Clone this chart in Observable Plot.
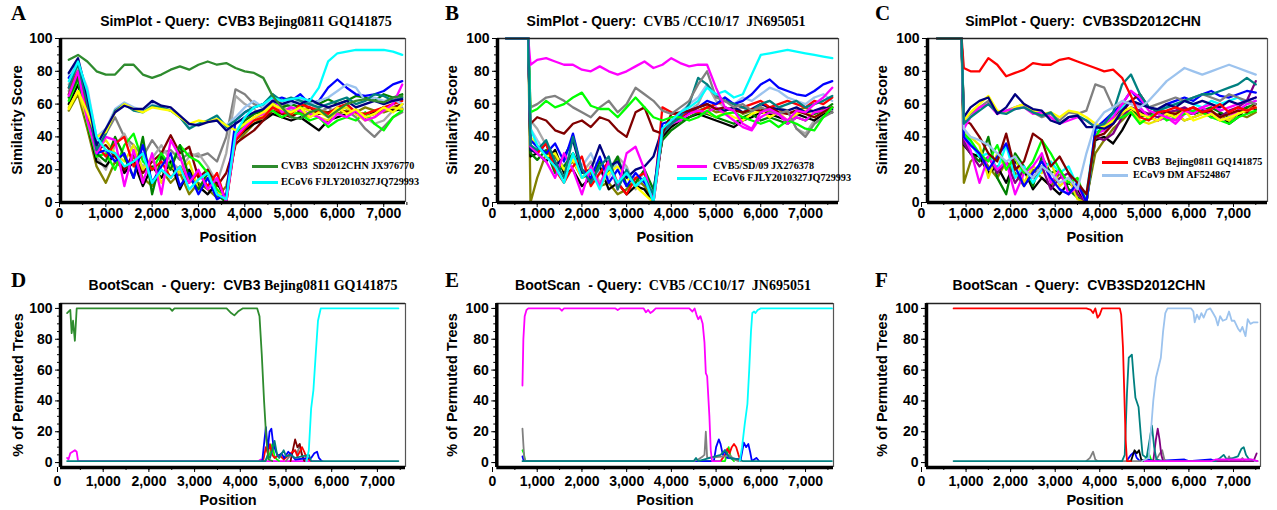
<!DOCTYPE html>
<html><head><meta charset="utf-8">
<script src="https://cdn.jsdelivr.net/npm/d3@7"></script>
<script src="https://cdn.jsdelivr.net/npm/@observablehq/plot@0.6"></script>
<style>
body{margin:0;background:#fff;}
#wrap{position:relative;width:1277px;height:510px;overflow:hidden;background:#fff;}
.abs{position:absolute;white-space:nowrap;line-height:1;color:#000;}
.sans{font-family:'Liberation Sans',Arial,sans-serif;font-weight:bold;}
.serif{font-family:'Liberation Serif','Times New Roman',serif;font-weight:bold;}
.ctr{transform:translate(-50%,-50%);}
.rot{transform:translate(-50%,-50%) rotate(-90deg);}
.ttl{font-size:14px;}
.letter{font-family:'Liberation Serif','Times New Roman',serif;font-weight:bold;font-size:21px;}
.axl{font-family:'Liberation Sans',Arial,sans-serif;font-weight:bold;font-size:14.5px;}
.leg{font-size:10.2px;}
.sw{position:absolute;height:3px;}
svg{position:absolute;}
</style>
</head><body>
<div id="wrap"></div>
<script>
// ---------- tick labels ----------
const xMajor = [0,1000,2000,3000,4000,5000,6000,7000];
const xMinor = [0,500,1000,1500,2000,2500,3000,3500,4000,4500,5000,5500,6000,6500,7000,7500];
const yMajor = [0,20,40,60,80,100];
const yMinor = [0,5,10,15,20,25,30,35,40,45,50,55,60,65,70,75,80,85,90,95,100];

// ---------- Panel A (SimPlot, query CVB3 Bejing0811) ----------
const posA = [200,400,600,800,1000,1200,1400,1600,1800,2000,2200,2400,2600,2800,3000,3200,3400,3600,3800,4000,4200,4400,4600,4800,5000,5200,5400,5600,5800,6000,6200,6400,6600,6800,7000,7200,7400];
const A_green = [87,90,86,80,78,78,84,84,78,76, 78,81,83,81,84,86,84,85,82,80, 79,76,65,58,52,51,55,57,52,56, 60,62,63,62,61,64,65];
const A_cyan = [74,86,68,40,32,30,22,25,30,12, 20,15,22,8,14,18,5,2,42,52, 58,60,64,62,63,64,62,70,86,91, 92,93,93,93,93,92,90];
const A_navy = [79,88,65,35,45,55,59,57,57,62, 59,58,53,48,47,49,50,44,48,52, 55,57,62,60,62,60,63,60,58,60, 62,58,60,62,60,62,63];
const A_blue = [76,86,62,30,32,25,30,15,35,12, 22,30,10,18,5,15,2,5,50,55, 58,60,62,64,62,66,60,62,70,75, 70,66,65,66,68,72,74];
const A_yellow = [57,68,55,40,43,55,60,57,55,58, 57,56,52,48,50,49,51,47,44,48, 52,55,60,57,55,58,52,55,52,58, 54,57,52,54,58,55,60];
const A_teal = [70,85,60,32,42,56,60,56,55,59, 58,56,52,45,48,50,53,46,50,55, 58,60,66,62,64,62,60,58,60,62, 64,60,62,66,65,62,64];
const A_lightblue = [78,84,70,40,45,57,61,58,56,60, 58,56,52,46,48,50,52,47,52,58, 62,58,64,62,60,63,60,62,64,68, 72,70,62,64,62,63,60];
const A_gray = [68,80,55,30,42,52,40,35,28,38, 30,32,26,30,28,30,25,40,69,66, 60,58,66,60,58,56,54,55,58,54, 56,52,45,40,46,52,55];
const A_dgray = [72,82,58,28,20,35,42,30,22,27, 35,25,20,28,30,22,12,30,65,60, 57,52,62,58,56,58,60,57,55,58, 60,54,52,48,50,56,58];
const A_red = [70,80,55,35,28,36,40,22,30,20, 25,15,22,12,18,10,18,0,38,45, 50,52,58,55,54,60,58,56,54,58, 60,55,54,56,58,60,62];
const A_magenta = [65,80,50,30,40,38,10,32,12,30, 5,38,28,12,20,8,15,0,40,46, 52,54,65,55,58,56,54,52,48,54, 52,56,50,52,56,60,72];
const A_lime = [62,75,48,28,30,20,35,42,25,20, 30,22,35,28,25,18,8,2,40,48, 50,54,56,52,55,54,50,52,46,50, 52,50,55,48,44,52,56];
const A_darkred = [66,78,50,32,35,28,20,30,18,25, 30,41,30,34,15,20,10,18,36,40, 44,50,56,54,52,56,58,54,55,57, 55,56,52,54,56,58,60];
const A_black = [60,72,48,25,22,30,18,25,10,22, 15,25,8,20,10,5,12,2,38,44, 48,50,54,52,50,52,48,44,50,52, 54,56,52,55,58,56,57];
const A_olive = [56,66,45,22,12,25,20,28,15,10, 20,12,18,5,12,8,3,10,35,42, 48,52,58,55,53,55,52,56,55,54, 56,55,58,56,55,57,60];
const A_green2 = [64,76,52,30,25,40,28,15,40,5, 28,20,35,15,8,18,5,0,42,50, 54,56,60,58,60,58,62,60,63,60, 62,65,64,62,66,64,66];
const A_yellow2 = [58,68,50,32,38,30,25,35,20,28, 12,22,18,25,8,15,6,3,40,46, 50,53,60,56,54,58,56,52,50,56, 58,54,50,52,56,58,57];

// ---------- Panel B (SimPlot, query CVB5/CC10/17) ----------
const posB = [300,800,850,1000,1200,1400,1600,1800,2000,2200,2400,2600,2800,3000,3200,3400,3600,3800,4000,4200,4400,4600,4800,5000,5200,5400,5600,5800,6000,6200,6400,6600,6800,7000,7200,7400,7600];
const B_magenta = [100,100,84,87,88,86,84,84,81,80, 83,80,78,80,83,86,82,84,88,85, 83,84,84,70,58,56,48,45,55,57, 54,50,56,55,60,64,70];
const B_cyan = [100,100,45,35,28,22,12,30,15,20, 8,22,12,18,10,15,0,45,50,55, 58,62,70,66,68,64,66,78,90,91, 92,93,92,91,90,89,88];
const B_lime = [100,100,55,57,62,58,60,64,67,59, 57,57,52,58,64,58,52,50,52,52, 50,52,56,52,54,55,52,50,48,50, 46,50,48,45,44,52,58];
const B_gray = [100,100,58,60,64,65,62,58,55,52, 58,62,55,60,70,66,62,56,54,58, 62,72,80,64,62,58,60,56,58,56, 54,56,45,40,48,52,55];
const B_darkred = [100,100,48,52,50,44,42,48,50,46, 52,50,44,40,55,58,44,42,54,55, 56,58,60,57,58,56,55,57,56,58, 55,54,56,54,52,55,58];
const B_olive = [100,100,0,15,30,28,20,25,15,18, 10,12,5,8,15,10,2,40,48,52, 55,56,58,55,56,58,54,56,58,55, 57,54,56,58,55,57,58];
const B_teal = [100,100,35,32,38,25,15,40,20,12, 22,28,8,20,10,15,5,42,48,52, 60,76,72,65,62,60,58,56,60,62, 58,60,62,58,60,62,65];
const B_blue = [100,100,38,34,30,36,25,42,20,15, 28,12,20,10,18,12,5,48,50,54, 56,58,62,60,64,60,62,66,72,75, 70,68,66,65,68,72,74];
const B_navy = [100,100,32,30,36,22,28,38,18,20, 35,22,25,15,20,22,28,45,48,52, 55,58,60,57,56,58,55,57,60,58, 57,56,58,55,56,58,57];
const B_red = [100,100,35,30,36,20,12,22,28,10, 18,25,12,5,15,18,0,58,55,52, 56,55,58,60,62,60,58,60,62,58, 60,62,60,58,62,60,64];
const B_yellow = [100,100,40,35,28,30,20,26,15,22, 10,18,22,15,10,5,0,44,50,52, 54,56,55,52,55,52,50,54,56,52, 55,50,54,56,52,55,58];
const B_black = [100,100,28,30,25,32,18,20,10,15, 22,8,12,5,10,8,0,40,46,50, 52,54,52,50,48,46,50,52,55,54, 52,50,54,52,50,54,55];
const B_green2 = [100,100,30,26,32,18,22,30,20,12, 25,18,28,10,12,20,8,38,44,48, 52,55,54,52,50,48,52,54,50,52, 50,48,52,50,54,56,60];
const B_dgray = [100,100,50,45,35,28,22,30,18,25, 12,20,28,22,8,15,2,40,48,52, 56,60,72,62,58,56,58,55,60,62, 58,56,45,42,50,54,56];
const B_lightblue = [100,100,45,38,30,25,20,28,22,30, 18,15,25,20,12,18,5,42,50,55, 60,64,72,66,62,60,64,62,66,70, 68,64,62,60,64,66,62];
const B_magenta2 = [100,100,34,30,25,15,30,20,5,22, 10,25,8,30,34,20,0,42,48,50, 54,56,55,58,54,50,46,44,52,55, 54,48,52,50,55,56,58];

// ---------- Panel C (SimPlot, query CVB3SD2012CHN) ----------
const posC = [350,900,950,1100,1300,1500,1700,1900,2100,2300,2500,2700,2900,3100,3300,3500,3700,3900,4100,4300,4500,4700,4900,5100,5300,5500,5700,5900,6100,6300,6500,6700,6900,7100,7300,7500];
const C_red = [100,100,82,80,80,88,84,77,79,81, 85,84,84,87,88,86,84,82,80,81, 76,65,52,50,55,56,58,56,58,55, 57,60,55,58,56,58];
const C_lightblue = [100,100,45,40,38,35,30,25,28,20, 15,22,18,12,15,8,30,48,55,58, 62,60,58,62,68,74,78,82,80,78, 80,82,84,82,80,78];
const C_navy = [100,100,52,58,62,64,54,58,66,60, 57,56,50,48,52,53,46,46,45,48, 56,62,60,58,57,60,58,62,60,62, 60,58,62,60,62,64];
const C_yellow = [100,100,50,55,60,65,56,55,58,60, 56,54,55,52,56,55,52,48,46,50, 55,58,54,52,50,54,52,56,50,52, 54,50,52,54,56,58];
const C_gray = [100,100,50,54,58,62,55,56,58,60, 55,52,54,50,55,54,56,72,70,58, 60,62,60,58,60,62,64,62,64,66, 64,62,66,64,62,60];
const C_teal = [100,100,48,52,56,60,55,54,57,58, 55,53,55,48,52,53,50,46,48,55, 72,78,66,58,56,58,60,62,64,66, 66,68,70,72,76,72];
const C_magenta = [100,100,45,52,58,60,54,56,57,58, 54,55,52,48,50,52,50,46,48,52, 60,68,64,56,54,52,50,56,54,58, 60,56,58,60,62,64];
const C_darkred = [100,100,50,48,40,30,25,42,20,25, 42,38,22,28,18,12,5,40,42,48, 55,62,66,58,56,55,54,56,58,55, 56,52,54,56,55,60];
const C_lime = [100,100,42,38,30,25,35,20,28,18, 25,38,30,20,12,15,0,40,48,50, 52,55,48,52,55,50,52,54,56,55, 52,50,48,52,54,56];
const C_blue = [100,100,40,35,30,20,28,36,22,10, 18,25,15,8,5,12,0,45,50,55, 60,68,62,58,56,60,62,64,62,66, 68,65,64,66,68,67];
const C_black = [100,100,35,30,28,18,22,12,25,20, 8,15,10,5,12,8,0,38,40,36, 44,54,56,52,50,54,52,55,54,56, 52,54,48,52,58,57];
const C_olive = [100,100,12,25,30,22,15,25,18,10, 20,15,10,18,8,5,2,30,38,45, 50,56,54,52,50,52,54,50,52,54, 55,52,50,54,52,55];
const C_green2 = [100,100,38,30,25,40,15,5,30,22, 10,28,18,20,8,3,0,42,46,50, 58,56,52,54,56,52,55,57,54,56, 58,55,52,56,58,60];
const C_cyan = [100,100,42,36,28,30,20,35,15,22, 12,20,25,18,22,10,5,44,48,54, 58,62,60,58,56,58,60,62,60,58, 62,60,62,64,60,62];
const C_purple = [100,100,36,30,22,28,18,25,12,20, 15,22,8,15,18,5,0,40,38,42, 52,58,56,54,52,55,56,58,55,56, 54,52,56,58,62,74];
const C_magenta2 = [100,100,40,32,12,28,20,25,5,18, 22,30,12,20,5,10,0,42,44,50, 56,62,58,52,50,52,48,54,56,58, 54,50,52,56,60,62];
const C_yellow2 = [100,100,44,40,35,15,30,20,28,12, 22,18,25,10,15,2,0,40,46,50, 54,56,50,48,50,52,55,50,52,54, 56,52,50,55,56,60];

// ---------- Panel D (BootScan, query CVB3 Bejing0811) [position, %] ----------
const D_green = [[210,97],[280,99],[310,84],[340,92],[380,79],[420,100],[2460,100],[2510,98.5],[2560,100],[3700,100],[3800,97],[3870,95.5],[3950,98],[4050,100],[4370,100],[4420,95],[4470,70],[4520,40],[4570,15],[4620,2],[4700,1]];
const D_cyan = [[5450,1],[5500,8],[5550,35],[5600,47],[5650,70],[5700,92],[5760,100],[7460,100]];
const D_blue = [[4480,1],[4530,15],[4560,23],[4600,8],[4640,20],[4680,22],[4720,12],[4770,8],[4820,4],[4900,6],[4960,3],[5050,7],[5120,5],[5200,2],[5550,3],[5620,6],[5680,7],[5720,3],[5780,1]];
const D_red = [[4500,1],[4560,10],[4600,6],[4650,12],[4700,5],[4750,3],[4850,5],[4950,2],[5100,6],[5200,8],[5250,4],[5350,10],[5400,7],[5450,3],[5550,1]];
const D_darkred = [[5100,1],[5150,8],[5200,15],[5250,10],[5300,12],[5350,5],[5400,1]];
const D_gray = [[5000,1],[5100,5],[5200,8],[5250,6],[5300,12],[5350,4],[5450,1]];
const D_lime = [[4550,1],[4650,6],[4700,12],[4750,4],[4800,2],[4850,1]];
const D_magenta = [[210,3],[240,2],[280,6],[330,7],[380,8],[420,7],[450,1],[4400,1],[4450,2],[4500,1],[5800,1]];
const D_teal = [[210,1],[4550,1],[4600,5],[4650,3],[4700,8],[4750,14],[4800,6],[4850,3],[4950,8],[5000,4],[5100,5],[5200,3],[5500,5],[5550,1],[7460,1]];

// ---------- Panel E (BootScan, query CVB5/CC10/17) ----------
const E_magenta = [[670,50],[690,80],[720,95],[760,99],[800,100],[1500,100],[1550,98.5],[1600,100],[2750,100],[2800,99],[2850,100],[3380,100],[3430,97.5],[3480,99],[3530,97],[3580,98],[3650,100],[4400,100],[4470,98],[4520,100],[4560,96],[4600,93],[4650,95],[4700,90],[4740,78],[4770,58],[4800,56],[4850,30],[4880,8],[4910,1],[5100,1]];
const E_cyan = [[5530,1],[5580,10],[5640,25],[5700,38],[5740,60],[5780,85],[5810,97],[5850,98],[5880,97],[5930,99],[6000,100],[7590,100]];
const E_gray = [[670,22],[690,12],[710,3],[740,1],[4500,1],[4600,2],[4700,4],[4740,5],[4770,20],[4800,3],[5200,4],[5300,5],[5400,2],[5500,1]];
const E_blue = [[670,4],[700,1],[4950,1],[5000,10],[5060,15],[5100,12],[5150,5],[5200,8],[5250,3],[5550,2],[5620,13],[5670,10],[5720,12],[5760,7],[5800,1],[5900,3],[5960,1]];
const E_red = [[5100,1],[5200,5],[5250,9],[5300,6],[5350,10],[5400,12],[5450,10],[5500,5],[5550,1]];
const E_lime = [[670,8],[700,6],[730,1],[5200,1],[5280,10],[5330,3],[5400,1]];
const E_teal = [[670,1],[4500,1],[4550,3],[4600,1],[5100,5],[5200,8],[5300,3],[5500,2],[5600,1],[7590,1]];

// ---------- Panel F (BootScan, query CVB3SD2012CHN) ----------
const F_red = [[720,100],[3700,100],[3800,99],[3850,97],[3900,100],[3950,94],[4000,96],[4050,100],[4450,100],[4480,96],[4520,75],[4550,45],[4580,15],[4610,1],[4700,1]];
const F_teal = [[720,1],[4500,1],[4560,5],[4610,45],[4650,68],[4720,70],[4760,55],[4800,42],[4870,36],[4920,18],[4960,5],[5050,3],[5120,15],[5170,24],[5220,10],[5270,2],[5400,1],[6600,1],[6700,3],[6780,5],[6850,2],[7000,3],[7100,4],[7180,9],[7230,10],[7280,5],[7350,2],[7540,1]];
const F_lightblue = [[4950,1],[5100,3],[5160,25],[5200,40],[5260,55],[5320,62],[5370,68],[5420,85],[5470,97],[5520,100],[6050,100],[6100,98],[6130,91],[6180,96],[6230,93],[6280,97],[6330,94],[6400,99],[6480,100],[6540,97],[6600,94],[6650,89],[6700,95],[6760,92],[6840,93],[6900,98],[6960,92],[7020,92],[7100,87],[7150,85],[7200,88],[7270,82],[7320,93],[7380,90],[7450,91],[7540,91]];
const F_purple = [[5200,1],[5260,15],[5300,22],[5340,15],[5380,5],[5420,1],[7450,1],[7520,6]];
const F_black = [[4700,1],[4780,8],[4830,6],[4880,8],[4930,2],[4980,1]];
const F_gray = [[3700,1],[3780,3],[3850,7],[3900,2],[3950,1],[5250,1],[5330,5],[5400,8],[5450,2],[5500,1],[6850,1],[6900,4],[6950,1],[7150,1],[7200,3],[7250,1]];
const F_blue = [[4600,1],[4700,5],[4780,7],[4830,3],[4900,1],[5100,2],[5200,1],[5900,2],[6000,1],[6500,2],[6600,1]];
const F_lime = [[5000,1],[5100,6],[5150,2],[5200,1]];
const F_magenta = [[5000,1],[6500,1],[6600,2],[7400,2],[7540,1]];

// ---------- colours ----------
const COL = {green:"#2e8b2e", cyan:"#00ffff", navy:"#000080", blue:"#0000ff", yellow:"#ffff00", teal:"#008080",
  lightblue:"#9cc3ee", gray:"#808080", dgray:"#a9a9a9", red:"#ff0000", magenta:"#ff00ff", lime:"#00ff00",
  darkred:"#800000", black:"#000000", olive:"#808000", green2:"#008000", yellow2:"#e8e800", purple:"#800080"};

const wrap = document.getElementById("wrap");
const fmt = d3.format(",");

// frame drawn from the data extent [xs, xe] x [y0, y1]; the x scale itself starts at 0
function axes(y0, y1, xs, xe, dxY, bottomPad) {
  return [
    Plot.ruleY([y1], {x1: xs, x2: xe, stroke: "#222", strokeWidth: 1.6}),
    Plot.ruleX([xe], {y1: y0, y2: y1, stroke: "#555", strokeWidth: 1.2}),
    Plot.ruleX([xs], {y1: y0, y2: y1, stroke: "#000", strokeWidth: 3.5}),
    Plot.ruleY([y0], {x1: xs, x2: xe, stroke: "#000", strokeWidth: 3.5}),
    Plot.axisY({ticks: yMinor, tickSize: 3, dx: dxY, tickFormat: () => "", label: null}),
    Plot.axisY({ticks: yMajor, tickSize: 5, dx: dxY, tickPadding: 3, label: null}),
    Plot.axisX({ticks: xMinor, tickSize: 3, tickFormat: () => "", label: null}),
    Plot.axisX({ticks: xMajor, tickSize: 5, tickPadding: bottomPad, tickFormat: fmt, label: null})
  ];
}

const STYLE = {fontFamily: "'Liberation Sans', Arial, sans-serif", fontSize: "14px", fontWeight: "bold", color: "#000", background: "transparent", overflow: "visible"};

function simPanel(cfg) {
  const marks = [];
  for (const s of cfg.series) {
    const data = s.v.map((v, i) => ({x: cfg.pos[i], y: v}));
    marks.push(Plot.line(data, {x: "x", y: "y", stroke: COL[s.c], strokeWidth: 2.3}));
  }
  if (cfg.flat) {
    const data = cfg.flat.slice(0, 3).map((v, i) => ({x: cfg.pos[i], y: v}));
    marks.push(Plot.line(data, {x: "x", y: "y", stroke: COL.teal, strokeWidth: 2.3}));
  }
  const plotW = cfg.width - cfg.ml - cfg.mr;
  const dxY = cfg.xs / cfg.xe * plotW;
  const svg = Plot.plot({
    width: cfg.width, height: 250,
    marginLeft: cfg.ml, marginRight: cfg.mr, marginTop: 38, marginBottom: 48,
    x: {domain: [0, cfg.xe]}, y: {domain: [0, 100]},
    style: STYLE,
    marks: [...marks, ...axes(0, 100, cfg.xs, cfg.xe, dxY, 1)]
  });
  svg.style.left = cfg.left + "px"; svg.style.top = "0px";
  wrap.appendChild(svg);
}

function bootPanel(cfg) {
  const marks = [];
  for (const s of cfg.series) {
    const data = s.v.map(p => ({x: p[0], y: p[1]}));
    marks.push(Plot.line(data, {x: "x", y: "y", stroke: COL[s.c], strokeWidth: 1.8}));
  }
  const plotW = cfg.width - cfg.ml - cfg.mr;
  const dxY = cfg.xs / cfg.xe * plotW;
  const svg = Plot.plot({
    width: cfg.width, height: 255,
    marginLeft: cfg.ml, marginRight: cfg.mr, marginTop: 48, marginBottom: 43,
    x: {domain: [0, cfg.xe]}, y: {domain: [-3.2, 103.2]},
    style: STYLE,
    marks: [...marks, ...axes(-3.2, 103.2, cfg.xs, cfg.xe, dxY, 4)]
  });
  svg.style.left = cfg.left + "px"; svg.style.top = "255px";
  wrap.appendChild(svg);
}

simPanel({left: 0, width: 420, ml: 59, mr: 15, xs: 22, xe: 7470, pos: posA, series: [
  {c:"gray", v:A_gray},{c:"dgray", v:A_dgray},{c:"olive", v:A_olive},{c:"black", v:A_black},{c:"darkred", v:A_darkred},
  {c:"lime", v:A_lime},{c:"yellow2", v:A_yellow2},{c:"green2", v:A_green2},{c:"red", v:A_red},{c:"blue", v:A_blue},
  {c:"magenta", v:A_magenta},{c:"lightblue", v:A_lightblue},{c:"teal", v:A_teal},{c:"yellow", v:A_yellow},{c:"navy", v:A_navy},
  {c:"cyan", v:A_cyan},{c:"green", v:A_green}]});

simPanel({left: 425, width: 425, ml: 67, mr: 12, xs: 112, xe: 7740, pos: posB, flat: B_teal, series: [
  {c:"dgray", v:B_dgray},{c:"lightblue", v:B_lightblue},{c:"olive", v:B_olive},{c:"black", v:B_black},{c:"green2", v:B_green2},
  {c:"yellow", v:B_yellow},{c:"navy", v:B_navy},{c:"red", v:B_red},{c:"blue", v:B_blue},{c:"magenta", v:B_magenta2},
  {c:"teal", v:B_teal},{c:"darkred", v:B_darkred},{c:"gray", v:B_gray},{c:"lime", v:B_lime},
  {c:"cyan", v:B_cyan},{c:"magenta", v:B_magenta}]});

simPanel({left: 850, width: 427, ml: 71, mr: 10, xs: 135, xe: 7763, pos: posC, flat: C_teal, series: [
  {c:"olive", v:C_olive},{c:"black", v:C_black},{c:"green2", v:C_green2},{c:"yellow2", v:C_yellow2},{c:"cyan", v:C_cyan},
  {c:"purple", v:C_purple},{c:"magenta", v:C_magenta2},{c:"lime", v:C_lime},{c:"blue", v:C_blue},{c:"darkred", v:C_darkred},
  {c:"gray", v:C_gray},{c:"yellow", v:C_yellow},{c:"magenta", v:C_magenta},{c:"teal", v:C_teal},{c:"navy", v:C_navy},
  {c:"lightblue", v:C_lightblue},{c:"red", v:C_red}]});

bootPanel({left: 0, width: 420, ml: 57, mr: 15, xs: 66, xe: 7615, series: [
  {c:"magenta", v:D_magenta},{c:"lime", v:D_lime},{c:"gray", v:D_gray},{c:"darkred", v:D_darkred},{c:"red", v:D_red},
  {c:"blue", v:D_blue},{c:"teal", v:D_teal},{c:"cyan", v:D_cyan},{c:"green", v:D_green}]});

bootPanel({left: 425, width: 425, ml: 67, mr: 17, xs: 96, xe: 7625, series: [
  {c:"lime", v:E_lime},{c:"red", v:E_red},{c:"blue", v:E_blue},{c:"gray", v:E_gray},{c:"teal", v:E_teal},
  {c:"cyan", v:E_cyan},{c:"magenta", v:E_magenta}]});

bootPanel({left: 850, width: 427, ml: 71, mr: 17, xs: 112, xe: 7606, series: [
  {c:"lime", v:F_lime},{c:"blue", v:F_blue},{c:"gray", v:F_gray},{c:"black", v:F_black},
  {c:"purple", v:F_purple},{c:"teal", v:F_teal},{c:"magenta", v:F_magenta},{c:"lightblue", v:F_lightblue},{c:"red", v:F_red}]});

// ---------- text overlays ----------
const texts = [
  '<div class="abs letter" style="left:11px;top:3px">A</div>',
  '<div class="abs letter" style="left:445px;top:3px">B</div>',
  '<div class="abs letter" style="left:875px;top:3px">C</div>',
  '<div class="abs letter" style="left:11px;top:270px">D</div>',
  '<div class="abs letter" style="left:445px;top:270px">E</div>',
  '<div class="abs letter" style="left:875px;top:270px">F</div>',
  '<div class="abs ttl ctr" style="left:246px;top:21px"><span class="sans">SimPlot - Query:&nbsp; CVB3</span> <span class="serif">Bejing0811 GQ141875</span></div>',
  '<div class="abs ttl ctr" style="left:666px;top:21px"><span class="sans">SimPlot - Query:</span>&nbsp; <span class="serif">CVB5 /CC10/17&nbsp; JN695051</span></div>',
  '<div class="abs ttl ctr" style="left:1083px;top:21px"><span class="sans">SimPlot - Query:&nbsp; CVB3SD2012CHN</span></div>',
  '<div class="abs ttl ctr" style="left:243px;top:285px"><span class="sans">BootScan&nbsp; - Query:&nbsp; CVB3</span> <span class="serif">Bejing0811 GQ141875</span></div>',
  '<div class="abs ttl ctr" style="left:663px;top:285px"><span class="sans">BootScan&nbsp; - Query:</span>&nbsp; <span class="serif">CVB5 /CC10/17&nbsp; JN695051</span></div>',
  '<div class="abs ttl ctr" style="left:1079px;top:285px"><span class="sans">BootScan&nbsp; - Query:&nbsp; CVB3SD2012CHN</span></div>',
  '<div class="abs axl rot" style="left:17px;top:120px">Similarity Score</div>',
  '<div class="abs axl rot" style="left:452px;top:120px">Similarity Score</div>',
  '<div class="abs axl rot" style="left:882px;top:120px">Similarity Score</div>',
  '<div class="abs axl rot" style="left:18px;top:385px">% of Permuted Trees</div>',
  '<div class="abs axl rot" style="left:452px;top:385px">% of Permuted Trees</div>',
  '<div class="abs axl rot" style="left:882px;top:385px">% of Permuted Trees</div>',
  '<div class="abs axl ctr" style="left:228px;top:237px">Position</div>',
  '<div class="abs axl ctr" style="left:665px;top:237px">Position</div>',
  '<div class="abs axl ctr" style="left:1095px;top:237px">Position</div>',
  '<div class="abs axl ctr" style="left:228px;top:500px">Position</div>',
  '<div class="abs axl ctr" style="left:665px;top:500px">Position</div>',
  '<div class="abs axl ctr" style="left:1095px;top:500px">Position</div>',
  '<div class="sw" style="left:252px;top:165px;width:26px;background:#2e8b2e"></div><div class="abs serif leg" style="left:281px;top:161px">CVB3&nbsp; SD2012CHN JX976770</div>',
  '<div class="sw" style="left:252px;top:181px;width:26px;background:#00ffff"></div><div class="abs serif leg" style="left:281px;top:177px">ECoV6 FJLY2010327JQ729993</div>',
  '<div class="sw" style="left:677px;top:165px;width:30px;background:#ff00ff"></div><div class="abs serif leg" style="left:713px;top:161px">CVB5/SD/09 JX276378</div>',
  '<div class="sw" style="left:677px;top:177px;width:30px;background:#00ffff"></div><div class="abs serif leg" style="left:713px;top:173px">ECoV6 FJLY2010327JQ729993</div>',
  '<div class="sw" style="left:1102px;top:161px;width:26px;background:#ff0000"></div><div class="abs leg" style="left:1133px;top:157px"><span class="sans">CVB3</span>&nbsp; <span class="serif">Bejing0811 GQ141875</span></div>',
  '<div class="sw" style="left:1102px;top:174px;width:26px;background:#9cc3ee"></div><div class="abs serif leg" style="left:1133px;top:170px">ECoV9 DM AF524867</div>'
];
texts.forEach(t => wrap.insertAdjacentHTML("beforeend", t));
</script>
</body></html>
